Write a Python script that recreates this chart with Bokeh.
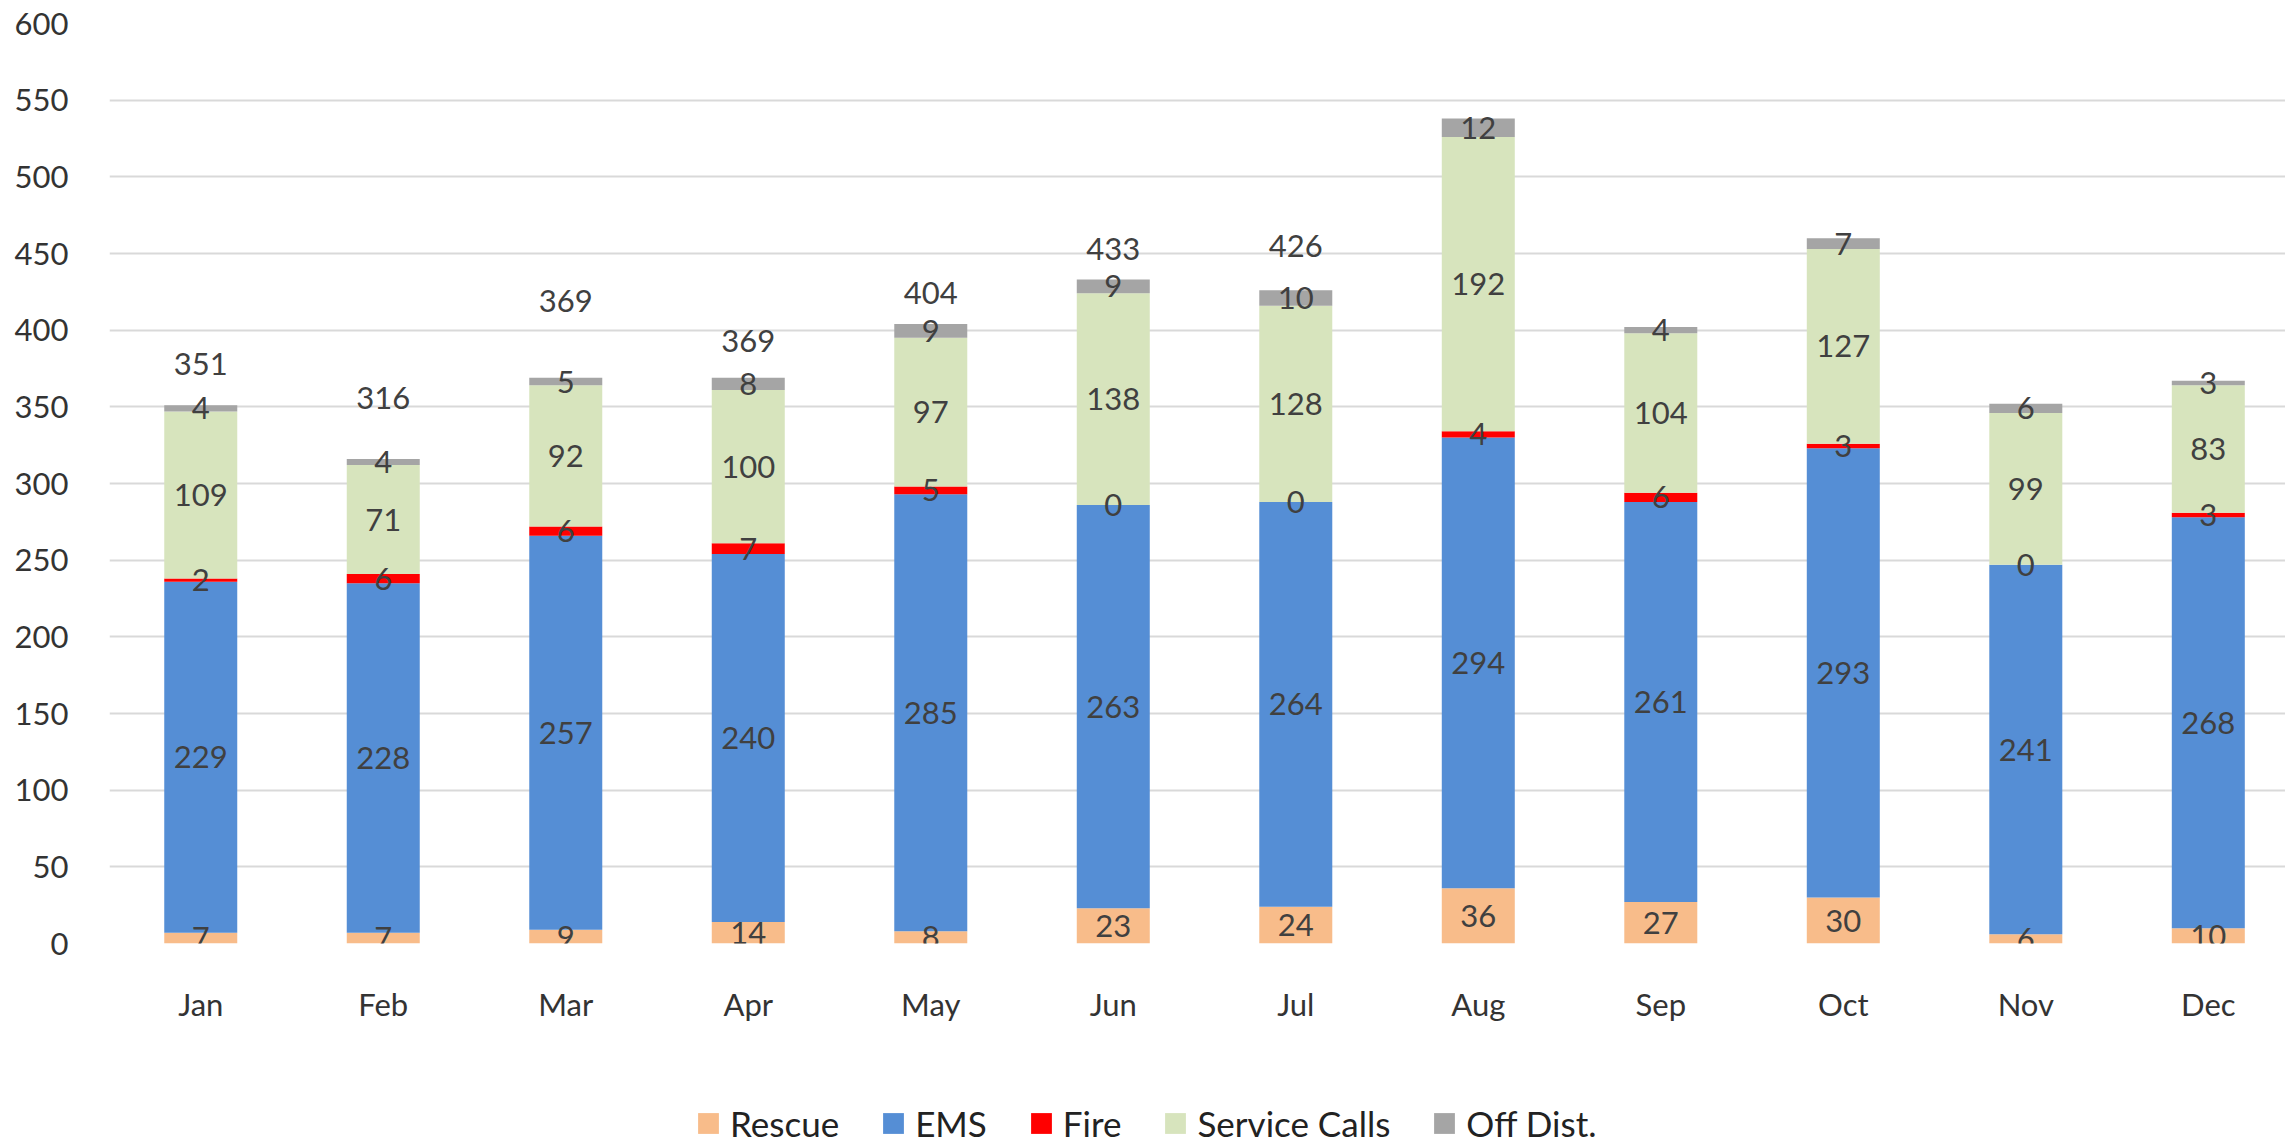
from bokeh.plotting import figure
from bokeh.layouts import column
from bokeh.models import (ColumnDataSource, Range1d, FixedTicker, Legend, LegendItem)
from bokeh.core.properties import value
from bokeh.embed import file_html
from bokeh.resources import INLINE

# Monthly call counts by category
months = ["Jan", "Feb", "Mar", "Apr", "May", "Jun", "Jul", "Aug", "Sep", "Oct", "Nov", "Dec"]
rescue = [7, 7, 9, 14, 8, 23, 24, 36, 27, 30, 6, 10]
ems = [229, 228, 257, 240, 285, 263, 264, 294, 261, 293, 241, 268]
fire = [2, 6, 6, 7, 5, 0, 0, 4, 6, 3, 0, 3]
service_calls = [109, 71, 92, 100, 97, 138, 128, 192, 104, 127, 99, 83]
off_dist = [4, 4, 5, 8, 9, 9, 10, 12, 4, 7, 6, 3]

series_names = ["Rescue", "EMS", "Fire", "Service Calls", "Off Dist."]
series_values = [rescue, ems, fire, service_calls, off_dist]
series_colors = ["#F8BC8A", "#558ED5", "#FF0000", "#D7E4BD", "#A5A5A5"]

# Month totals are labelled for the first seven months only
total_label_months = 7
# vertical lift (in data units) of each total label above its bar
total_label_lift = [27, 40, 50, 24, 20, 20, 29]

FONT = "Lato"
TEXT_COLOR = "#404040"
AXIS_COLOR = "#333333"
FONT_SIZE = "31px"

xs = list(range(len(months)))
keys = ["s%d" % i for i in range(len(series_names))]
data = {"x": xs}
for k, vals in zip(keys, series_values):
    data[k] = vals
source = ColumnDataSource(data)

MAIN_H = 1060
p = figure(width=2285, height=MAIN_H, output_backend="svg", toolbar_location=None,
           x_range=Range1d(-0.5, 11.423), y_range=Range1d(0, 600),
           min_border_left=109, min_border_right=0, min_border_top=23,
           min_border_bottom=MAIN_H - 943)
p.outline_line_color = None
p.background_fill_color = "white"
p.border_fill_color = "white"

p.vbar_stack(keys, x="x", width=0.40, color=series_colors,
             line_color=None, source=source)

# Segment value labels, centred in each segment
lx, ly, lt = [], [], []
bottoms = [0] * len(months)
for vals in series_values:
    for i, v in enumerate(vals):
        lx.append(xs[i])
        ly.append(bottoms[i] + v / 2.0)
        lt.append(str(v))
        bottoms[i] += v
p.text(x=lx, y=ly, text=lt, text_font=value(FONT), text_font_size=FONT_SIZE,
       text_color=TEXT_COLOR, text_align="center", text_baseline="middle")

# Totals above the bars
totals = bottoms
tx = xs[:total_label_months]
ty = [totals[i] + total_label_lift[i] for i in range(total_label_months)]
tt = [str(totals[i]) for i in range(total_label_months)]
p.text(x=tx, y=ty, text=tt, text_font=value(FONT), text_font_size=FONT_SIZE,
       text_color=TEXT_COLOR, text_align="center", text_baseline="middle")

# Axes
p.xaxis.ticker = FixedTicker(ticks=xs)
p.xaxis.major_label_overrides = {i: m for i, m in enumerate(months)}
p.yaxis.ticker = FixedTicker(ticks=list(range(0, 601, 50)))
for ax in (p.xaxis, p.yaxis):
    ax.axis_line_color = None
    ax.major_tick_line_color = None
    ax.minor_tick_line_color = None
    ax.major_label_text_font = FONT
    ax.major_label_text_font_size = FONT_SIZE
    ax.major_label_text_color = AXIS_COLOR
p.yaxis.major_label_standoff = 35
p.xaxis.major_label_standoff = 35

p.xgrid.grid_line_color = None
p.ygrid.grid_line_color = "#D9D9D9"
p.ygrid.grid_line_width = 2

# Legend strip under the chart
LEG_H = 1144 - MAIN_H
lf = figure(width=2285, height=LEG_H, output_backend="svg", toolbar_location=None,
            x_axis_type=None, y_axis_type=None,
            x_range=Range1d(0, 1), y_range=Range1d(0, 1),
            min_border_left=0, min_border_right=0, min_border_top=0, min_border_bottom=0)
lf.outline_line_color = None
lf.xgrid.grid_line_color = None
lf.ygrid.grid_line_color = None
# zero-height bars: they only supply the legend swatches
swatches = [lf.vbar(x=[0.5], top=[0], bottom=[0], width=0.01, color=c, line_color=None)
            for c in series_colors]
legend = Legend(items=[LegendItem(label=n, renderers=[r]) for n, r in zip(series_names, swatches)],
                orientation="horizontal", location=(586, 0),
                label_text_font=FONT, label_text_font_size="35px",
                label_text_color="#222222", glyph_width=26, glyph_height=26,
                label_standoff=9, spacing=41, padding=0, margin=0,
                border_line_color=None, background_fill_alpha=0)
lf.add_layout(legend, "center")

layout = column(p, lf, spacing=0)
open("out.html", "w").write(file_html(layout, INLINE))
